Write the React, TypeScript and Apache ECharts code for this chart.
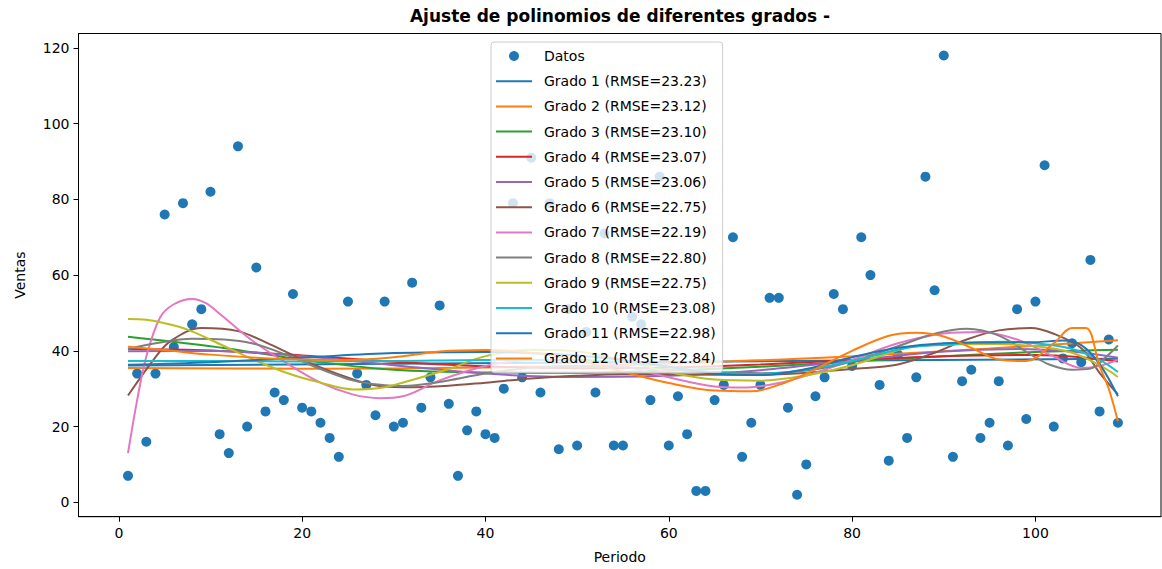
import React, { useEffect, useRef } from "react";
import * as echarts from "echarts";

// Ventas observadas por periodo (1..109)
const ventas = [
  7, 34, 16, 34, 76, 41, 79, 47, 51, 82,
  18, 13, 94, 20, 62, 24, 29, 27, 55, 25,
  24, 21, 17, 12, 53, 34, 31, 23, 53, 20,
  21, 58, 25, 33, 52, 26, 7, 19, 24, 18,
  17, 30, 79, 33, 91, 29, 79, 14, 51, 15,
  45, 29, 71, 15, 15, 49, 47, 27, 86, 15,
  28, 18, 3, 3, 27, 31, 70, 12, 21, 31,
  54, 54, 25, 2, 10, 28, 33, 55, 51, 36,
  70, 60, 31, 11, 39, 17, 33, 86, 56, 118,
  12, 32, 35, 17, 21, 32, 15, 51, 22, 53,
  89, 20, 38, 42, 37, 64, 24, 43, 21,
];
const periodos = ventas.map((_, i) => i + 1);

// Curvas ajustadas: pares [periodo, valor]
const grado1 = [[1, 36.1], [55, 37.0], [109, 37.9]];
const grado2 = [[1, 35.5], [20, 35.3], [40, 35.6], [60, 36.6], [80, 38.6], [95, 40.6], [109, 42.8]];
const grado3 = [[1, 43.7], [10, 41.2], [15, 39.5], [22, 37], [30, 35], [40, 34.3], [50, 34.2], [60, 34.8], [70, 35.8], [80, 37.2], [90, 38.6], [100, 39.7], [109, 40.3]];
const grado4 = [[1, 40.5], [10, 40.1], [20, 38.8], [30, 37.1], [40, 35.9], [50, 35.4], [60, 35.6], [70, 36.4], [80, 37.6], [90, 38.6], [100, 38.9], [105, 38.3], [109, 37.2]];
const grado5 = [[1, 39.9], [10, 40.0], [15, 39.5], [22, 38.2], [30, 36.2], [40, 34], [50, 33.1], [60, 33.4], [70, 34.9], [80, 37.4], [90, 39.8], [98, 40.5], [104, 39.8], [109, 38.2]];
const grado6 = [[1, 28.2], [3.8, 37.7], [5.6, 42.5], [9, 46], [13, 45.2], [16.5, 41.7], [20, 37.7], [24, 33.8], [27.5, 31.1], [31, 30.4], [36, 30.8], [40, 31.6], [45, 32.7], [50, 33.4], [55, 33.8], [60, 33.8], [65, 33.7], [70, 33.7], [75, 34.2], [80, 35.2], [85, 36.4], [89, 39.5], [92.5, 43], [96, 45.4], [99.5, 46], [102, 44.5], [105, 40.7], [107, 34.2], [109, 28.5]];
const grado7 = [[1, 13], [2, 27], [3, 38.5], [4.5, 48.8], [6, 52.3], [8, 53.7], [9.5, 52.6], [11, 49.8], [14.5, 42.8], [18, 37.2], [22, 31.6], [25.5, 28.5], [28.5, 27.5], [31, 28], [35, 32.2], [40, 36], [45, 37.6], [50, 37.6], [55, 36], [60, 33], [65, 30.6], [68, 30.3], [72, 31.5], [76, 34.2], [80, 37.6], [85, 42], [90, 44.6], [94, 45], [98, 43], [102, 38.5], [105, 35.5], [107, 36], [109, 37.6]];
const grado8 = [[1, 40.5], [4, 42], [8, 43.2], [11.5, 43], [14.5, 42], [18, 39.2], [22, 35.2], [25.5, 32.2], [29, 30.9], [31, 30.7], [35, 31.8], [40, 34], [45, 35.5], [50, 36], [55, 35.6], [60, 35], [65, 34.4], [70, 34.1], [75, 34.8], [80, 37.2], [85, 41.2], [89, 44.5], [92.5, 45.8], [96, 44], [99.5, 39], [101.5, 36.4], [104, 35], [106, 35.3], [107.8, 38.6], [109, 41.4]];
const grado9 = [[1, 48.4], [3, 48.2], [5, 47.3], [7.5, 45.6], [11, 41.8], [14.7, 37.7], [18.5, 34], [22, 31.6], [25.6, 29.8], [29, 30.4], [32, 32.3], [36, 35.2], [40, 38.6], [45, 40.3], [50, 39.8], [55, 37.5], [60, 34.4], [65, 32.4], [70, 32.1], [75, 33.5], [80, 36.2], [86, 40.8], [90, 41.6], [95, 41.8], [100, 41.2], [104, 39.5], [107, 36.2], [109, 33.1]];
const grado10 = [[1, 37.3], [10, 37.3], [20, 37.2], [30, 37.3], [40, 37.6], [50, 37.6], [55, 37], [60, 35.8], [65, 34.3], [70, 33.9], [75, 35], [80, 37.3], [86, 40.8], [90, 41.6], [96, 42.4], [100, 42], [104, 40.5], [107, 37.6], [109, 34.4]];
const grado11 = [[1, 36.3], [10, 37], [20, 38.2], [30, 39.4], [40, 39.7], [50, 38.8], [55, 37.6], [60, 35.8], [65, 34], [70, 33.6], [75, 35.2], [80, 38.3], [85, 40.8], [90, 42], [95, 42.2], [100, 42.3], [103, 42.7], [105, 41.5], [107, 36.5], [109, 28]];
const grado12 = [[1, 41.1], [5, 40.2], [10, 39], [15, 38.2], [20, 37.7], [25, 37.6], [30, 38.3], [35, 39.8], [40, 40.2], [45, 39.5], [50, 37.5], [55, 34.5], [60, 31.5], [65, 29.5], [69, 29.3], [72, 31], [75, 34], [80, 40], [84, 44], [87, 44.8], [90, 43.8], [93, 40.8], [96, 37.7], [99, 37.3], [102, 42], [104, 46], [105.5, 46], [107, 36], [108, 30], [109, 21.4]];

const curvas = [grado1, grado2, grado3, grado4, grado5, grado6, grado7, grado8, grado9, grado10, grado11, grado12];
const rmse = ["23.23", "23.12", "23.10", "23.07", "23.06", "22.75", "22.19", "22.80", "22.75", "23.08", "22.98", "22.84"];
const colores = ["#1f77b4", "#ff7f0e", "#2ca02c", "#d62728", "#9467bd", "#8c564b", "#e377c2", "#7f7f7f", "#bcbd22", "#17becf", "#1f77b4", "#ff7f0e"];

const xTicks = [0, 20, 40, 60, 80, 100];
const yTicks = [0, 20, 40, 60, 80, 100, 120];

const FONT = "DejaVu Sans";

export default function App() {
  const ref = useRef<HTMLDivElement>(null);

  useEffect(() => {
    if (!ref.current) return;
    const chart = echarts.init(ref.current, undefined, { renderer: "svg" });

    const nombres = curvas.map((_, i) => `Grado ${i + 1} (RMSE=${rmse[i]})`);

    const lineSeries = curvas.map((c, i) => ({
      name: nombres[i],
      type: "line",
      data: c,
      smooth: 0.35,
      showSymbol: false,
      symbol: "none",
      lineStyle: { color: colores[i], width: 2 },
      itemStyle: { color: colores[i] },
      z: 3,
    }));

    chart.setOption({
      animation: false,
      title: {
        text: "Ajuste de polinomios de diferentes grados -",
        left: 620,
        top: 7,
        textAlign: "center",
        padding: 0,
        textStyle: { fontFamily: FONT, fontSize: 17, fontWeight: "bold", color: "#000" },
      },
      grid: {
        left: 78.5,
        right: 1,
        top: 33.5,
        bottom: 52.3,
        show: true,
        borderColor: "#000",
        borderWidth: 1,
        backgroundColor: "transparent",
      },
      legend: {
        orient: "vertical",
        left: 491,
        top: 42,
        padding: [7, 7, 7, 5],
        itemWidth: 36,
        itemHeight: 10,
        itemGap: 11.2,
        backgroundColor: "rgba(255,255,255,0.8)",
        borderColor: "#cccccc",
        borderWidth: 1,
        borderRadius: 3,
        selectedMode: false,
        textStyle: { fontFamily: FONT, fontSize: 14, color: "#000", lineHeight: 14, padding: [0, 0, 0, 7] },
        data: [
          { name: "Datos", icon: "circle" },
          ...nombres.map((n) => ({ name: n, icon: "path://M0,0h36v2h-36z" })),
        ],
      },
      xAxis: {
        type: "value",
        min: -4.4,
        max: 113.7,
        name: "Periodo",
        nameLocation: "middle",
        nameGap: 33,
        nameTextStyle: { fontFamily: FONT, fontSize: 14, color: "#000" },
        axisLine: { show: true, onZero: false, lineStyle: { color: "#000", width: 1 } },
        axisTick: { show: true, length: 5, lineStyle: { color: "#000" }, customValues: xTicks },
        axisLabel: { fontFamily: FONT, fontSize: 14, color: "#000", margin: 9, customValues: xTicks },
        splitLine: { show: false },
      },
      yAxis: {
        type: "value",
        min: -3.8,
        max: 123.8,
        name: "Ventas",
        nameLocation: "middle",
        nameGap: 52,
        nameTextStyle: { fontFamily: FONT, fontSize: 14, color: "#000" },
        axisLine: { show: true, onZero: false, lineStyle: { color: "#000", width: 1 } },
        axisTick: { show: true, length: 5, lineStyle: { color: "#000" }, customValues: yTicks },
        axisLabel: { fontFamily: FONT, fontSize: 14, color: "#000", margin: 9, customValues: yTicks },
        splitLine: { show: false },
      },
      series: [
        {
          name: "Datos",
          type: "scatter",
          data: periodos.map((p, i) => [p, ventas[i]]),
          symbolSize: 10,
          itemStyle: { color: "#1f77b4", opacity: 1 },
          z: 2,
        },
        ...lineSeries,
      ],
    });

    return () => chart.dispose();
  }, []);

  return (
    <div
      ref={ref}
      style={{ position: "fixed", left: 0, top: 0, width: 1162, height: 569, background: "#fff" }}
    />
  );
}
